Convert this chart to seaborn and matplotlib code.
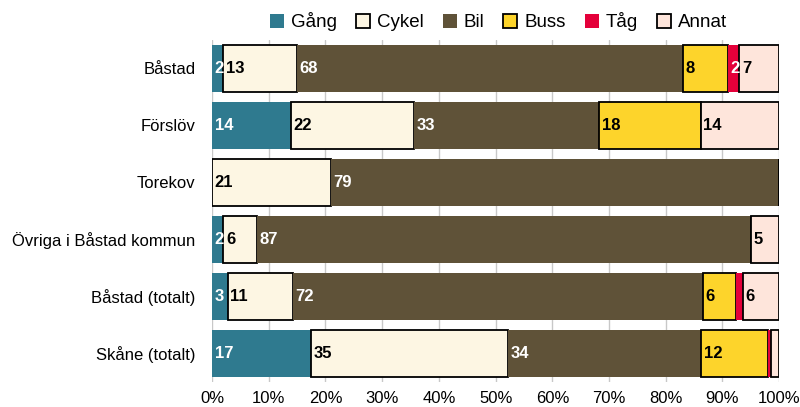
import numpy as np
import pandas as pd
import matplotlib
matplotlib.use("Agg")
import matplotlib.pyplot as plt
import seaborn as sns

places = ["Båstad", "Förslöv", "Torekov", "Övriga i Båstad kommun",
          "Båstad (totalt)", "Skåne (totalt)"]
modes = ["Gång", "Cykel", "Bil", "Buss", "Tåg", "Annat"]

# shares in percent (labels show rounded values)
gang = [2, 14, 0, 2, 2.8, 17.4]
cykel = [13, 22, 21, 6, 11.4, 34.8]
bil = [68, 33, 79, 87, 72.2, 34.1]
buss = [8, 18, 0, 0, 5.8, 11.7]
tag = [2, 0, 0, 0, 1.2, 0.5]
annat = [7, 14, 0, 5, 6.4, 1.5]

colors = ["#2f7a8f", "#fdf6e3", "#5f5238", "#fdd42b", "#e4003a", "#fee5db"]
edges = [False, True, False, True, False, True]
text_colors = ["white", "black", "white", "black", "white", "black"]

df = pd.DataFrame({"Gång": gang, "Cykel": cykel, "Bil": bil, "Buss": buss,
                   "Tåg": tag, "Annat": annat}, index=places)
pct = df.div(df.sum(axis=1), axis=0) * 100

sns.set_theme(style="white", rc={"text.color": "black",
                                 "xtick.color": "black",
                                 "ytick.color": "black"})
plt.rcParams["font.family"] = ["Liberation Sans", "DejaVu Sans"]

fig, ax = plt.subplots(figsize=(8, 4.07), dpi=100)
fig.subplots_adjust(left=0.265, right=0.974, top=0.902, bottom=0.062)

left = np.zeros(len(places))
for i, mode in enumerate(modes):
    vals = pct[mode].values
    sns.barplot(x=vals, y=places, order=places, orient="h", ax=ax,
                color=colors[i], saturation=1, width=0.82, left=left,
                edgecolor="black" if edges[i] else colors[i],
                linewidth=1.3 if edges[i] else 0, label=mode, zorder=3)
    for j, raw in enumerate(df[mode].values):
        if raw >= 2:
            ax.text(left[j] + 0.45, j, f"{round(raw)}", ha="left", va="center",
                    color=text_colors[i], fontsize=12, fontweight="bold",
                    zorder=5)
    left = left + vals

ax.set_xlim(0, 100)
ax.set_xticks(np.arange(0, 101, 10))
ax.set_xticklabels([f"{t}%" for t in range(0, 101, 10)], fontsize=12)
ax.tick_params(axis="y", labelsize=12, length=0, pad=12)
ax.tick_params(axis="x", length=0, pad=7)
ax.set_xlabel("")
ax.set_ylabel("")
ax.xaxis.grid(True, color="#c8c8c8", linewidth=1, zorder=0)
ax.set_axisbelow(True)
for s in ax.spines.values():
    s.set_visible(False)

ax.legend(ncol=6, loc="center right", bbox_to_anchor=(0.909, 0.946),
          bbox_transform=fig.transFigure, frameon=False, fontsize=13.5,
          handlelength=0.75, handleheight=0.75, handletextpad=0.38,
          columnspacing=1.0, borderpad=0, borderaxespad=0)

fig.savefig("out.png", dpi=100)
